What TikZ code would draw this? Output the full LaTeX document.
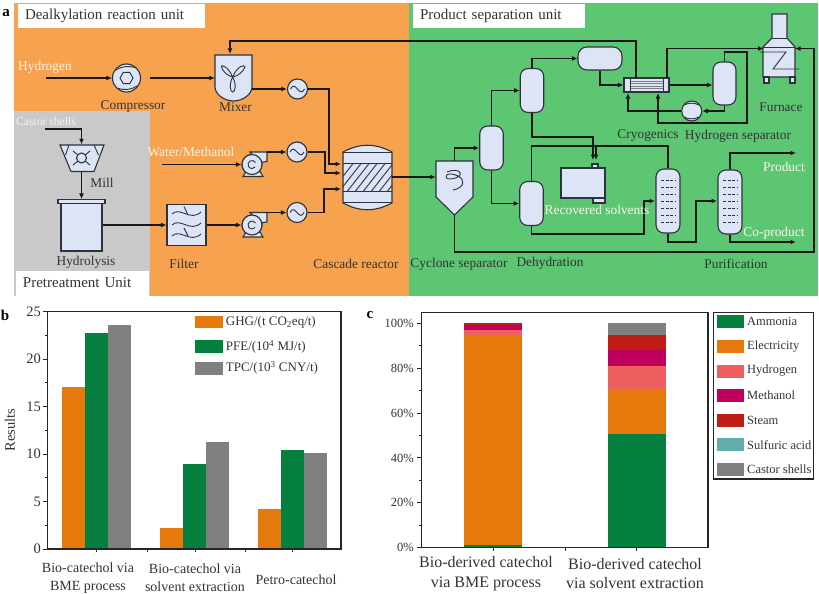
\documentclass[tikz,border=0pt]{standalone}
\usepackage{fontspec}
\setmainfont{Liberation Serif}
\usetikzlibrary{arrows.meta,shapes.geometric}
\definecolor{panelorange}{HTML}{F7A24F}
\definecolor{panelgreen}{HTML}{5CC672}
\definecolor{panelgray}{HTML}{C9C9C9}
\definecolor{unitblue}{HTML}{DCE4F5}
\definecolor{inkline}{HTML}{2A343A}
\definecolor{barorange}{HTML}{E5790C}
\definecolor{bargreen}{HTML}{05803F}
\definecolor{bargray}{HTML}{808080}
\definecolor{barred}{HTML}{EE6060}
\definecolor{barpurple}{HTML}{C0005C}
\definecolor{barsteam}{HTML}{BE1E14}
\definecolor{barteal}{HTML}{60ADAA}
\tikzset{
  lab/.style={font=\fontsize{13.4}{15}\selectfont,text=black!80,inner sep=0pt},
  whitelab/.style={lab,text=white!92!orange},
  unitlab/.style={font=\fontsize{15}{17}\selectfont,text=black!80,fill=white,inner xsep=7pt,inner ysep=0pt,align=left},
  letter/.style={font=\fontsize{15}{17}\selectfont\bfseries,inner sep=0pt},
  unit/.style={draw=inkline,fill=unitblue,line width=1.1pt,inner sep=0pt},
  vessel/.style={unit,rounded corners=8pt,minimum width=23.5pt,minimum height=44pt},
  tower/.style={unit,rounded corners=8pt,minimum width=24pt,minimum height=64pt},
  hxer/.style={unit,circle,minimum size=20pt},
  blank/.style={inner sep=0pt},
  inner/.style={draw=inkline,line width=0.9pt},
  flow/.style={draw=black!90,line width=1.25pt,-{Latex[length=5.5pt,width=5pt]}},
  flowplain/.style={draw=black!90,line width=1.25pt},
  btick/.style={font=\fontsize{14.5}{16}\selectfont,text=black!80,inner sep=0pt},
  ctick/.style={font=\fontsize{12.5}{14}\selectfont,text=black!80,inner sep=0pt},
  catb/.style={font=\fontsize{14}{18}\selectfont,text=black!80,align=center,inner sep=0pt},
  catc/.style={font=\fontsize{16}{19.5}\selectfont,text=black!80,align=center,inner sep=0pt},
  legb/.style={font=\fontsize{13}{15}\selectfont,text=black!80,anchor=west,inner sep=0pt},
  legc/.style={font=\fontsize{12.5}{14}\selectfont,text=black!80,anchor=west,inner sep=0pt}
}
\begin{document}
\begin{tikzpicture}[x=1pt,y=-1pt]
\useasboundingbox (0,0) rectangle (819,594);
% panels of the process flow
\fill[panelorange] (14,3) rectangle (409,296);
\fill[panelgreen] (409,3) rectangle (818,296);
\fill[panelgray] (14,111) rectangle (150,296);
\node[letter] (leta) at (6,13) {a};
\node[unitlab,text width=173pt,minimum height=24pt] (titleA) at (111.5,16) {Dealkylation reaction unit};
\node[unitlab,text width=158pt,minimum height=24pt] (titleB) at (499,16) {Product separation unit};
\node[unitlab,text width=119pt,minimum height=25pt] (titleC) at (82.5,283) {Pretreatment Unit};

% dealkylation and pretreatment equipment
\node[hxer,minimum size=28pt] (comp) at (126.5,78) {};
\node[regular polygon,regular polygon sides=6,inner,minimum size=13pt,inner sep=0pt] (comphex) at (126.5,78) {};
\draw[inner] (116,70) to[bend left=25] (136,68) (137,86) to[bend left=25] (117,88);
\node[blank,minimum width=37pt,minimum height=46pt] (mixer) at (233.5,78) {};
\draw[unit] (215,55) -- (252,55) -- (252,87) .. controls (252,94) and (243,101) .. (233.5,101) .. controls (224,101) and (215,94) .. (215,87) -- cycle;
\draw[inner] (232.7,77) .. controls (228,66) and (220,64) .. (221.5,67) .. controls (223,72) and (228,76) .. (232.7,77);
\draw[inner] (232.7,77) .. controls (237,66) and (245,64) .. (245,67) .. controls (243,72) and (238,76) .. (232.7,77);
\draw[inner] (232.7,77) .. controls (229,84) and (230,92) .. (232.7,92) .. controls (235.5,92) and (236.5,84) .. (232.7,77);
\node[hxer] (hx1) at (297.5,89) {};
\node[hxer] (hx2) at (297,152) {};
\node[hxer] (hx3) at (297,212.5) {};
\foreach \n in {hx1,hx2,hx3}
  \draw[inner] ([xshift=-7pt]\n.center) .. controls ([xshift=-2pt,yshift=10pt]\n.center) and ([xshift=2pt,yshift=-10pt]\n.center) .. ([xshift=7pt]\n.center);
\node[hxer] (pump1) at (252,164.5) {};
\node[hxer] (pump2) at (252,225) {};
\foreach \n in {pump1,pump2} {
  \draw[unit] ([xshift=-6pt,yshift=-7pt]\n.center) -- ([xshift=-9pt,yshift=-12pt]\n.center) -- ([xshift=11pt,yshift=-12pt]\n.center) -- ([xshift=8pt,yshift=-7pt]\n.center) -- cycle;
  \draw[unit] ([xshift=-2pt,yshift=12.5pt]\n.center) -- ([xshift=15pt,yshift=12.5pt]\n.center) -- ([xshift=15pt,yshift=3pt]\n.center) -- ([xshift=8pt,yshift=2pt]\n.center) -- cycle;
  \draw[unit] (\n.center) circle (10pt);
  \draw[inner] ([xshift=3.5pt,yshift=2pt]\n.center) arc (30:320:4pt);
}
\coordinate (p1out) at (267,152);
\coordinate (p2out) at (267,212.5);
\node[blank,minimum width=49pt,minimum height=72pt] (reac) at (367.5,177) {};
\draw[unit] (343,152) to[bend left=28] (392,152) -- (392,203) to[bend left=28] (343,203) -- cycle;
\begin{scope}
  \clip (343,163) rectangle (392,191);
  \foreach \h in {0,8,...,80}
    \draw[inner] (330+\h,193) -- (355+\h,161);
\end{scope}
\draw[inner] (343,152) -- (392,152) (343,163) -- (392,163) (343,191) -- (392,191) (343,202) -- (392,202);
\node[blank,minimum width=45pt,minimum height=27pt] (mill) at (81.5,158) {};
\draw[unit] (60,145) -- (104,145) -- (94,171.5) -- (71,171.5) -- cycle;
\draw[inner] (73,151) -- (90,165) (90,151) -- (73,165);
\draw[unit] (81.5,158) circle (5pt);
\draw[inner] (69,145) -- (65.5,155) (94,145) -- (98.5,155);
\node[unit,minimum width=41pt,minimum height=48pt] (hydro) at (81.5,227) {};
\node[unit,minimum width=47pt,minimum height=4pt] (hydrolid) at (81.5,201.5) {};
\node[unit,minimum width=39pt,minimum height=41pt] (filter) at (186.5,225) {};
\foreach \h in {214,225,236}
  \draw[inner] (172,\h) .. controls (180,\h-8) and (190,\h+8) .. (201,\h-2);
\draw[inner] (184,206.5) -- (188,215) (184,228) -- (188,236);

% separation equipment
\node[blank,minimum width=37pt,minimum height=54pt] (cyc) at (454.5,188) {};
\draw[unit] (436,161) -- (473,161) -- (473,197) -- (454.5,215) -- (436,197) -- cycle;
\draw[inner] (447,172) .. controls (462,166) and (466,178) .. (450,179) .. controls (442,179) and (446,170) .. (458,176) .. controls (466,180) and (464,188) .. (453,190);
\node[vessel] (v1) at (491.5,148) {};
\node[vessel] (v2) at (532,90.5) {};
\node[vessel] (v3) at (531.5,203.5) {};
\node[unit,rounded corners=9pt,minimum width=44pt,minimum height=23pt] (drum) at (600,58.5) {};
\node[unit,minimum width=45pt,minimum height=14pt] (cryo) at (646.5,85) {};
\foreach \h in {81,83.5,86,88.5}
  \draw[inner,line width=0.6pt,black!50] (630,\h) -- (663,\h);
\draw[inner] (630,78) -- (630,92) (663,78) -- (663,92);
\node[unit,rounded corners=8pt,minimum width=23pt,minimum height=43pt] (sep) at (724.5,83.5) {};
\node[hxer] (comp2) at (691.7,111) {};
\draw[inner] (684,105) to[bend left=25] (699,105) (684,117) to[bend right=25] (699,117);
\node[blank,minimum width=32pt,minimum height=69pt] (furn) at (779.5,48) {};
\draw[unit] (772,14) -- (787,14) -- (787,38) -- (795,47) -- (795,77) -- (763,77) -- (763,47) -- (772,38) -- cycle;
\draw[unit] (764,77) rectangle (769,83) (790,77) rectangle (795,83);
\draw[inner] (772,38) -- (787,38) (763,47) -- (795,47);
\draw[inner] (760,52) -- (786,52) -- (773,69) -- (799,69);
\node[unit,minimum width=44pt,minimum height=30pt] (tank) at (583,183) {};
\draw[unit] (592,164) rectangle (598,168);
\draw[unit] (593,198) rectangle (605,203);
\node[tower] (col1) at (668,201) {};
\node[tower] (col2) at (730,202) {};
\foreach \h in {180,187,194,201,208,215,222}
  \draw[inner,dash pattern=on 3pt off 1.5pt] (661,\h) -- (676,\h) (723,\h) -- (738,\h);

% free ends of the streams
\coordinate (hydin) at (46,78);
\coordinate (castorin) at (45,129);
\coordinate (watin) at (162,164.5);
\coordinate (reacA) at (341,164);
\coordinate (reacB) at (341,173);
\coordinate (reacC) at (341,189);
\coordinate (mixA) at (230,54);
\coordinate (cryoA) at (628,93);
\coordinate (cryoB) at (658,93);
\coordinate (cryoC) at (667,78);
\coordinate (cryoD) at (636,78);
\coordinate (furnA) at (763.5,48.5);
\coordinate (furnB) at (795,48.5);
\coordinate (tankA) at (593,160);
\coordinate (tankB) at (596,160);
\coordinate (colA) at (655,201);
\coordinate (colB) at (717,201);
\coordinate (prodout) at (796,153);
\coordinate (coout) at (796,242);

% streams
\draw[flow] (hydin) -- (comp);
\draw[flow,shorten <=9pt] (comp) -- (mixer);
\draw[flow] (hx1 -| mixer.east) -- (hx1);
\draw[flow] (hx1) -- (329,89) -- (329,164) -- (reacA);
\draw[flow] (watin) -- (pump1);
\draw[flow] (p1out) -- (hx2);
\draw[flow] (hx2) -- (325,152) -- (325,173) -- (reacB);
\draw[flow] (filter) -- (pump2);
\draw[flow] (p2out) -- (hx3);
\draw[flow] (hx3) -- (324,212.5) -- (324,189) -- (reacC);
\draw[flow] (castorin) -| (mill.north);
\draw[flow] (mill) -- (hydrolid);
\draw[flow] (filter -| hydro.east) -- (filter);
\draw[flow] (reac.east) -- (reac -| cyc.west);
\draw[flow] (cyc.north) |- (v1);
\draw[flow] (v1.north) |- (v2);
\draw[flow] (v1.south) |- (v3);
\draw[flow] (v2.north) |- (drum);
\draw[flow] (drum.south) |- (cryo);
\draw[flow] (cryo) -- (cryo -| sep.west);
\draw[flow] (sep.south) |- (comp2);
\draw[flow] (comp2) -| (cryoA);
\draw[flow] (sep.north) -- (724.5,52) -- (747,52) -- (747,123) -- (658,123) -- (cryoB);
\draw[flow] (cryoC) |- (furnA);
\draw[flow] (cryoD) -- (636,41) -- (230,41) -- (mixA);
\draw[flow] (v2.south) |- (593,137) -- (tankA);
\draw[flowplain] (col1.north) -- (668,146) -- (531.5,146) -- (v3.north);
\draw[flow] (596,146) -- (tankB);
\draw[flow] (v3.south) |- (644,234) -- (644,201) -- (colA);
\draw[flow] (col1.south) |- (696,242) -- (696,201) -- (colB);
\draw[flow] (col2.north) |- (prodout);
\draw[flow] (col2.south) |- (coout);
\draw[flow] (cyc.south) |- (814,252) -- (814,48.5) -- (furnB);

% labels of the process flow
\node[whitelab] (lhyd) at (45,67) {Hydrogen};
\node[lab] (lcomp) at (133,106) {Compressor};
\node[lab] (lmix) at (235.5,107.5) {Mixer};
\node[whitelab,font=\fontsize{11.6}{13}\selectfont,text=white!80!panelgray] (lcastor) at (46,122) {Castor shells};
\node[lab] (lmill) at (102,183) {Mill};
\node[lab] (lhydro) at (86,262) {Hydrolysis};
\node[lab] (lfilter) at (184,264) {Filter};
\node[whitelab] (lwat) at (191,152) {Water/Methanol};
\node[lab] (lreac) at (356,264) {Cascade reactor};
\node[lab] (lcyc) at (459,264) {Cyclone separator};
\node[lab] (ldeh) at (550,263) {Dehydration};
\node[whitelab] (lrec) at (597,210) {Recovered solvents};
\node[lab] (lfurn) at (781,107) {Furnace};
\node[lab] (lcryo) at (648,136) {Cryogenics};
\node[lab] (lsep) at (738,136) {Hydrogen separator};
\node[whitelab] (lprod) at (784,167) {Product};
\node[whitelab] (lco) at (774,233) {Co-product};
\node[lab] (lpur) at (736,264) {Purification};

% chart b
\node[letter] (letb) at (5,315) {b};
\foreach \p/\a/\b/\c in {61.7/17.1/22.7/23.6,159.7/2.2/8.9/11.3,257.7/4.2/10.4/10.1} {
  \fill[barorange] (\p,549) rectangle ({\p+23},{549-9.5*\a});
  \fill[bargreen] ({\p+23},549) rectangle ({\p+46},{549-9.5*\b});
  \fill[bargray] ({\p+46},549) rectangle ({\p+69},{549-9.5*\c});
}
\draw[black!85,line width=1.2pt] (47.7,311.7) rectangle (341,549);
\foreach \v in {0,5,...,25} {
  \draw[black!85,line width=1pt] (43,{549-9.5*\v}) -- (47.7,{549-9.5*\v});
  \node[btick,anchor=east] at (41,{549-9.5*\v}) {\v};
}
\foreach \v in {2.5,7.5,...,22.5}
  \draw[black!85,line width=0.8pt] (45,{549-9.5*\v}) -- (47.7,{549-9.5*\v});
\foreach \p in {96,147,195,245,292}
  \draw[black!85,line width=0.8pt] (\p,549) -- (\p,552);
\node[btick,rotate=90] (ylab) at (10,430) {Results};
\fill[barorange] (195,315.7) rectangle (222.7,328.3);
\fill[bargreen] (195,340) rectangle (222.7,353.3);
\fill[bargray] (195,361.7) rectangle (222.7,375);
\node[legb] (lghg) at (225.7,322) {GHG/(t CO\textsubscript{2}eq/t)};
\node[legb] (lpfe) at (225.7,347) {PFE/(10\textsuperscript{4} MJ/t)};
\node[legb] (ltpc) at (225.7,368) {TPC/(10\textsuperscript{3} CNY/t)};
\node[catb] (cat1) at (88,578) {Bio-catechol via\\BME process};
\node[catb] (cat2) at (195,578) {Bio-catechol via\\solvent extraction};
\node[catb] (cat3) at (296,580) {Petro-catechol};

% chart c
\node[letter] (letc) at (370,315) {c};
\foreach \lo/\hi/\col in {0/1.4/bargreen,1.4/94.5/barorange,94.5/97/barred,97/99.4/barpurple,99.4/100/barsteam}
  \fill[\col] (464.3,{547.7-2.244*\lo}) rectangle (522.3,{547.7-2.244*\hi});
\foreach \lo/\hi/\col in {0/50.7/bargreen,50.7/70.3/barorange,70.3/80.8/barred,80.8/88/barpurple,88/95/barsteam,95/100/bargray}
  \fill[\col] (607.7,{547.7-2.244*\lo}) rectangle (665.7,{547.7-2.244*\hi});
\draw[black!85,line width=1.2pt] (421.7,312.7) rectangle (708,547.7);
\foreach \v in {0,20,...,100} {
  \draw[black!85,line width=1pt] (417,{547.7-2.244*\v}) -- (421.7,{547.7-2.244*\v});
  \node[ctick,anchor=east] at (414,{547.7-2.244*\v}) {\v\%};
}
\foreach \v in {10,30,50,70,90}
  \draw[black!85,line width=0.8pt] (419,{547.7-2.244*\v}) -- (421.7,{547.7-2.244*\v});
\foreach \p in {493,565,636}
  \draw[black!85,line width=0.8pt] (\p,547.7) -- (\p,551);
\node[catc] (cat4) at (486,573.5) {Bio-derived catechol\\via BME process};
\node[catc] (cat5) at (635,573.5) {Bio-derived catechol\\via solvent extraction};
\draw[black!85,line width=1.3pt] (713.3,312.7) rectangle (813.3,479);
\foreach \h/\col/\txt in {321.7/bargreen/Ammonia,346.3/barorange/Electricity,371/barred/Hydrogen,395.7/barpurple/Methanol,420.3/barsteam/Steam,444.7/barteal/Sulfuric acid,469.3/bargray/Castor shells} {
  \fill[\col] (716.7,\h-6.5) rectangle (744,\h+6.5);
  \node[legc] at (747,\h) {\txt};
}
\end{tikzpicture}
\end{document}
